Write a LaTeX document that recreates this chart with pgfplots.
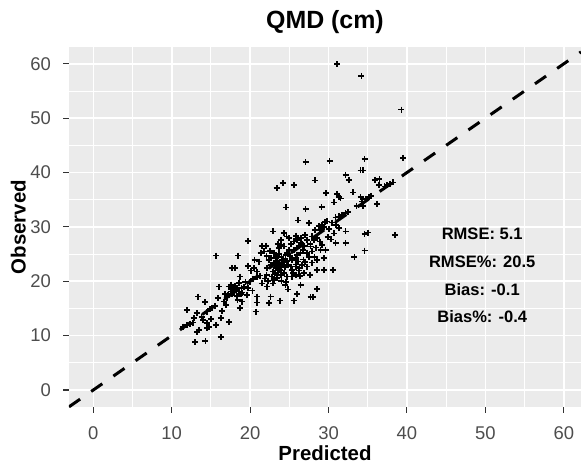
\documentclass[border=0pt]{standalone}
\usepackage{pgfplots}
\pgfplotsset{compat=1.18}
\usepackage{fontspec}
\setmainfont{Liberation Sans}
\definecolor{panelbg}{HTML}{EBEBEB}
\definecolor{ticklab}{HTML}{4D4D4D}
\definecolor{tickcol}{HTML}{333333}
\begin{document}
\begin{tikzpicture}
\begin{axis}[
  at={(0,0)}, anchor=south west,
  scale only axis, width=512bp, height=360bp,
  xmin=-3.1, xmax=62.2, ymin=-3.13, ymax=63.1,
  axis background/.style={fill=panelbg},
  axis line style={draw=none},
  xtick={0,10,...,60}, ytick={0,10,...,60},
  minor xtick={5,15,...,55}, minor ytick={5,15,...,55},
  grid=both,
  major grid style={white, line width=1.6bp},
  minor grid style={white, line width=0.9bp},
  tick align=outside, tick pos=left,
  major tick length=5.8bp, minor tick length=0pt,
  major tick style={tickcol, line width=1.1bp},
  minor tick style={draw=none},
  /pgf/number format/assume math mode=true,
  ticklabel style={font=\fontsize{18.5}{20}\selectfont, text=ticklab},
  xticklabel style={anchor=base, inner sep=0pt, yshift=-27bp},
  yticklabel style={anchor=east, inner sep=0pt, xshift=-12bp},
  title={QMD (cm)},
  title style={font=\fontsize{25}{28}\selectfont\bfseries, at={(axis description cs:0.5,1)}, anchor=base, inner sep=0pt, yshift=13bp},
  xlabel={Predicted},
  xlabel style={font=\fontsize{20.5}{24}\selectfont\bfseries, at={(axis description cs:0.5,0)}, anchor=base, inner sep=0pt, yshift=-53bp},
  ylabel={Observed},
  ylabel style={font=\fontsize{20.5}{24}\selectfont\bfseries, at={(axis description cs:0,0.5)}, anchor=base, inner sep=0pt, yshift=43.3bp},
]
\addplot[only marks, mark=+, mark size=3bp, mark options={line width=1.8bp}, black] table {
x y
31.1 59.9
34.2 57.8
39.3 51.6
39.5 42.7
27.07 41.87
30.13 42.17
34.59 42.48
34.08 40.39
34.42 40.39
32.17 39.59
32.59 38.67
28.26 38.55
24.18 38.06
23.38 37.14
25.58 37.75
35.90 38.67
36.50 38.86
36.41 37.75
37.14 37.45
37.47 37.69
37.81 37.94
38.20 38.18
29.70 36.22
31.10 36.10
31.32 35.48
31.53 35.24
33.14 36.34
30.68 34.50
34.08 35.48
34.29 34.68
34.71 35.11
35.14 35.48
35.44 35.73
33.57 33.89
34.42 33.89
36.20 34.25
24.61 33.58
27.07 33.27
29.11 33.64
29.83 31.00
30.89 31.74
31.32 31.92
31.74 32.23
32.17 32.53
32.46 32.78
28.77 30.20
29.07 29.77
29.41 29.96
29.19 30.39
28.90 29.47
30.04 29.59
31.32 29.77
32.17 29.16
34.59 28.73
35.01 28.97
38.45 28.54
27.50 30.69
26.14 31.18
27.92 28.24
28.13 27.62
28.56 27.93
27.71 26.40
27.28 27.62
25.58 27.32
26.01 27.62
26.43 27.01
26.86 26.52
24.31 28.85
24.65 28.24
24.95 27.93
22.95 29.16
23.55 26.89
23.89 27.62
21.55 26.52
21.98 26.52
19.73 27.44
20.57 23.94
21.13 23.63
18.49 24.74
15.65 24.74
17.73 22.41
18.03 22.41
18.66 20.87
19.98 19.95
20.40 20.38
20.83 20.75
21.25 21.06
19.22 19.03
19.73 18.72
22.19 19.03
22.61 17.19
22.40 15.96
23.80 16.45
20.91 17.19
20.91 16.08
20.70 14.43
25.58 16.45
26.01 17.68
26.43 19.34
27.71 17.07
28.05 17.07
28.56 18.54
29.41 22.10
30.55 22.10
23.04 25.17
23.25 24.25
23.46 23.63
23.67 23.33
23.89 23.02
24.10 23.20
24.31 23.45
22.95 21.79
23.12 21.48
23.38 21.18
23.55 21.61
23.25 22.41
22.61 23.02
22.19 22.41
22.10 21.18
24.10 23.94
24.52 24.86
24.74 25.17
24.95 25.78
24.31 26.40
23.67 26.09
23.89 26.70
25.16 22.71
25.37 22.10
25.50 21.48
25.80 21.18
25.37 20.87
24.74 20.87
24.31 21.48
25.58 25.78
25.92 26.09
26.22 26.52
26.65 26.89
26.94 26.52
26.01 24.86
26.43 25.17
26.77 25.78
25.80 24.25
27.28 25.17
27.92 25.48
28.22 24.43
28.56 23.94
27.92 23.45
27.28 22.71
28.56 22.10
28.98 25.78
29.62 25.78
29.41 24.25
30.89 27.01
32.17 27.01
33.31 24.43
34.59 25.66
23.46 22.71
23.80 22.10
23.04 23.33
23.97 21.18
22.82 20.87
23.38 20.56
25.80 22.71
26.22 21.98
26.65 23.02
26.09 23.63
25.37 23.94
26.86 21.48
26.35 20.99
21.76 25.48
22.10 24.68
22.40 23.94
21.34 25.17
20.07 21.98
20.49 22.41
19.73 22.83
20.91 21.79
17.30 19.03
17.52 18.11
17.73 17.68
17.94 17.92
18.15 18.42
18.37 18.72
18.58 18.11
18.79 17.68
19.00 17.92
18.28 17.31
17.22 17.50
18.58 19.64
17.73 18.72
16.03 19.03
16.67 16.27
16.97 15.65
18.66 15.04
19.00 16.27
13.40 17.19
14.25 16.14
14.54 14.43
14.88 14.86
15.18 15.16
15.52 15.47
12.00 14.73
13.19 14.12
14.04 12.89
14.54 12.28
16.24 13.20
17.30 12.58
11.49 11.66
11.91 11.91
12.34 12.15
12.76 12.40
13.27 10.74
13.48 11.05
14.54 11.36
14.76 11.66
16.24 9.70
13.00 8.80
14.30 9.00
27.60 21.20
24.80 18.50
24.60 19.80
23.6 22.3
24.0 22.0
24.4 22.6
23.1 22.9
24.7 23.7
23.3 24.6
24.0 24.4
24.5 24.2
23.7 25.0
22.7 24.3
22.5 25.6
24.9 23.0
25.1 24.6
23.0 20.2
24.0 20.0
24.5 19.3
22.9 19.6
25.2 26.8
25.9 28.4
26.5 28.0
27.0 28.5
26.8 24.0
27.5 24.4
27.0 23.5
26.3 22.5
25.8 23.1
27.7 26.9
28.4 26.2
28.9 27.3
29.2 26.7
29.9 28.2
30.3 27.7
30.7 28.8
31.0 30.3
30.4 30.8
29.6 30.9
28.3 29.5
17.6 19.4
18.1 19.2
18.9 18.8
19.4 19.9
16.8 17.7
17.1 17.0
18.4 16.6
19.6 17.5
20.3 18.3
21.5 19.6
21.9 20.5
22.3 20.1
13.8 13.5
15.0 13.0
15.6 12.0
12.8 13.2
15.9 16.9
16.4 14.6
};
\addplot[black, line width=3bp, dash pattern=on 13.5bp off 13.5bp] coordinates {(-3.1,-3.1) (62.2,62.2)};
\node[anchor=base, font=\fontsize{16.6}{20}\selectfont\bfseries] at (axis cs:49.6,27.6) {RMSE: 5.1};
\node[anchor=base, font=\fontsize{16.6}{20}\selectfont\bfseries] at (axis cs:49.6,22.5) {RMSE\%: 20.5};
\node[anchor=base, font=\fontsize{16.6}{20}\selectfont\bfseries] at (axis cs:49.6,17.45) {Bias: -0.1};
\node[anchor=base, font=\fontsize{16.6}{20}\selectfont\bfseries] at (axis cs:49.6,12.4) {Bias\%: -0.4};
\end{axis}
\pgfresetboundingbox
\path (-69bp,-58bp) rectangle (512bp,407bp);
\end{tikzpicture}
\end{document}
